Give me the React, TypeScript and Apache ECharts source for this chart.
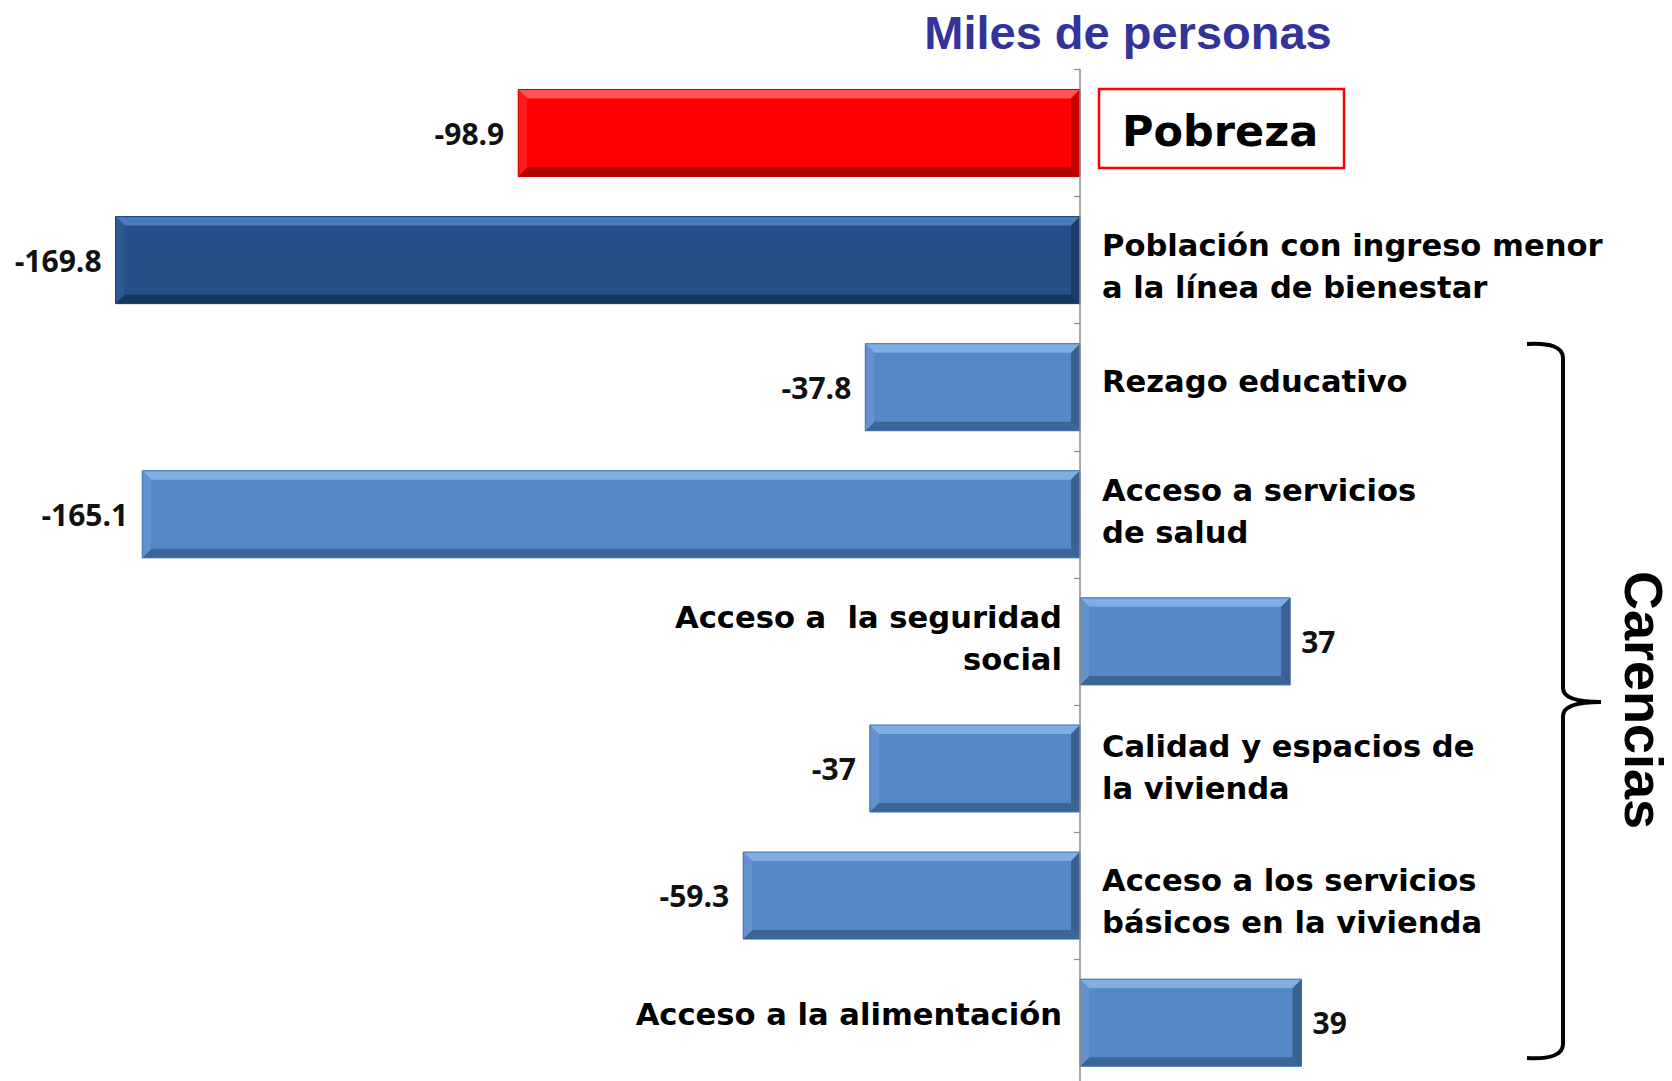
import React, { useEffect, useRef } from 'react';
import * as echarts from 'echarts';

const categories = [
  'Pobreza',
  'Población con ingreso menor\na la línea de bienestar',
  'Rezago educativo',
  'Acceso a servicios\nde salud',
  'Acceso a  la seguridad\nsocial',
  'Calidad y espacios de\nla vivienda',
  'Acceso a los servicios\nbásicos en la vivienda',
  'Acceso a la alimentación',
];
const values = [-98.9, -169.8, -37.8, -165.1, 37, -37, -59.3, 39];
const titleText = 'Miles de personas';
const groupText = 'Carencias';

// small vertical nudges of the category texts (layout only)
const labelDy = [0, 6, -6, -3, -3, -1, 6, -8];

const BRACE_D =
  'M1527 344 Q1563 342 1563 358 L1563 688 Q1563 702 1601 702 Q1563 702 1563 716 L1563 1044 Q1563 1060 1527 1058';
echarts.graphic.registerShape('brace', echarts.graphic.extendPath(BRACE_D, {}));

type Pal = { main: string; top: string; bottom: string; left: string; right: string; edge: string };
const RED: Pal = { main: '#ff0000', top: '#ff5555', bottom: '#b30000', left: '#ff1a1a', right: '#c40000', edge: '#c00000' };
const DARK: Pal = { main: '#27508a', top: '#4a7bbb', bottom: '#163660', left: '#2c5894', right: '#1b3d69', edge: '#1d4170' };
const LIGHT: Pal = { main: '#5687c7', top: '#80aee3', bottom: '#3b6497', left: '#6392cf', right: '#3a6191', edge: '#4170a8' };

function paletteFor(i: number): Pal {
  if (i === 0) return RED;
  if (i === 1) return DARK;
  return LIGHT;
}

export default function App() {
  const ref = useRef<HTMLDivElement>(null);
  useEffect(() => {
    if (!ref.current) return;
    const chart = echarts.init(ref.current, undefined, { renderer: 'svg' });
    const option: any = {
      animation: false,
      backgroundColor: '#ffffff',
      grid: { left: 57.6, top: 69.5, width: 1590.4, height: 1016.7, containLabel: false },
      xAxis: {
        type: 'value',
        min: -180,
        max: 100,
        show: false,
        splitLine: { show: false },
      },
      yAxis: {
        type: 'category',
        inverse: true,
        data: categories,
        axisLine: { show: true, onZero: true, lineStyle: { color: '#8c8c8c', width: 1.5 } },
        axisTick: { show: true, length: 6, lineStyle: { color: '#8c8c8c', width: 1.2 } },
        axisLabel: { show: false },
        splitLine: { show: false },
        z: 10,
      },
      series: [
        {
          type: 'custom',
          clip: false,
          encode: { x: 1, y: 0 },
          data: values.map((v, i) => [i, v]),
          renderItem: (params: any, api: any) => {
            const i = api.value(0) as number;
            const v = api.value(1) as number;
            const pEnd = api.coord([v, i]);
            const pZero = api.coord([0, i]);
            const band = api.size([0, 1])[1];
            const h = band * 0.685;
            const yc = pEnd[1];
            const x0 = Math.min(pEnd[0], pZero[0]);
            const x1 = Math.max(pEnd[0], pZero[0]);
            const y0 = yc - h / 2;
            const y1 = yc + h / 2;
            const b = 9;
            const pal = paletteFor(i);
            const zero = pZero[0];
            const children: any[] = [
              { type: 'rect', shape: { x: x0, y: y0, width: x1 - x0, height: y1 - y0 }, style: { fill: pal.main } },
              {
                type: 'polygon',
                shape: { points: [[x0, y0], [x1, y0], [x1 - b, y0 + b], [x0 + b, y0 + b]] },
                style: { fill: pal.top },
              },
              {
                type: 'polygon',
                shape: { points: [[x0, y1], [x1, y1], [x1 - b, y1 - b], [x0 + b, y1 - b]] },
                style: { fill: pal.bottom },
              },
              {
                type: 'polygon',
                shape: { points: [[x0, y0], [x0 + b, y0 + b], [x0 + b, y1 - b], [x0, y1]] },
                style: { fill: pal.left },
              },
              {
                type: 'polygon',
                shape: { points: [[x1, y0], [x1 - b, y0 + b], [x1 - b, y1 - b], [x1, y1]] },
                style: { fill: pal.right },
              },
              {
                type: 'rect',
                shape: { x: x0, y: y0, width: x1 - x0, height: y1 - y0 },
                style: { fill: 'none', stroke: pal.edge, lineWidth: 1 },
              },
              {
                type: 'text',
                x: v < 0 ? x0 - 14 : x1 + 11,
                y: yc,
                style: {
                  text: String(v),
                  align: v < 0 ? 'right' : 'left',
                  verticalAlign: 'middle',
                  fontFamily: 'Open Sans',
                  fontWeight: 'bold',
                  fontSize: 30,
                  fill: '#111111',
                },
              },
            ];
            if (i === 0) {
              children.push({
                type: 'rect',
                shape: { x: zero + 19, y: yc - 44, width: 245, height: 79 },
                style: { fill: '#ffffff', stroke: '#ff0000', lineWidth: 2.5 },
              });
              children.push({
                type: 'text',
                x: zero + 42,
                y: yc - 2,
                style: {
                  text: categories[i],
                  align: 'left',
                  verticalAlign: 'middle',
                  fontFamily: 'DejaVu Sans',
                  fontWeight: 'bold',
                  fontSize: 43,
                  fill: '#000000',
                },
              });
            } else {
              children.push({
                type: 'text',
                x: v < 0 ? zero + 22 : zero - 18,
                y: yc + labelDy[i],
                style: {
                  text: categories[i],
                  align: v < 0 ? 'left' : 'right',
                  verticalAlign: 'middle',
                  fontFamily: 'DejaVu Sans',
                  fontWeight: 'bold',
                  fontSize: 30.6,
                  lineHeight: 42,
                  fill: '#000000',
                },
              });
            }
            return { type: 'group', children };
          },
        },
      ],
      graphic: [
        {
          type: 'text',
          x: 1128,
          y: 32,
          style: {
            text: titleText,
            align: 'center',
            verticalAlign: 'middle',
            textAlign: 'center',
            textVerticalAlign: 'middle',
            fontFamily: 'Liberation Sans',
            fontWeight: 'bold',
            fontSize: 47,
            fill: '#333399',
          },
        },
        {
          type: 'text',
          x: 1644,
          y: 700,
          rotation: -Math.PI / 2,
          style: {
            text: groupText,
            align: 'center',
            verticalAlign: 'middle',
            textAlign: 'center',
            textVerticalAlign: 'middle',
            fontFamily: 'Liberation Sans',
            fontWeight: 'bold',
            fontSize: 54,
            fill: '#000000',
          },
        },
        {
          type: 'brace',
          x: 0,
          y: 0,
          style: { stroke: '#000000', lineWidth: 4, fill: 'none' },
        },
      ],
    };
    chart.setOption(option);
    return () => chart.dispose();
  }, []);
  return (
    <div
      style={{ position: 'fixed', left: 0, top: 0, width: 1672, height: 1081, overflow: 'hidden', background: '#fff' }}
    >
      <div ref={ref} style={{ width: 1672, height: 1120 }} />
    </div>
  );
}
